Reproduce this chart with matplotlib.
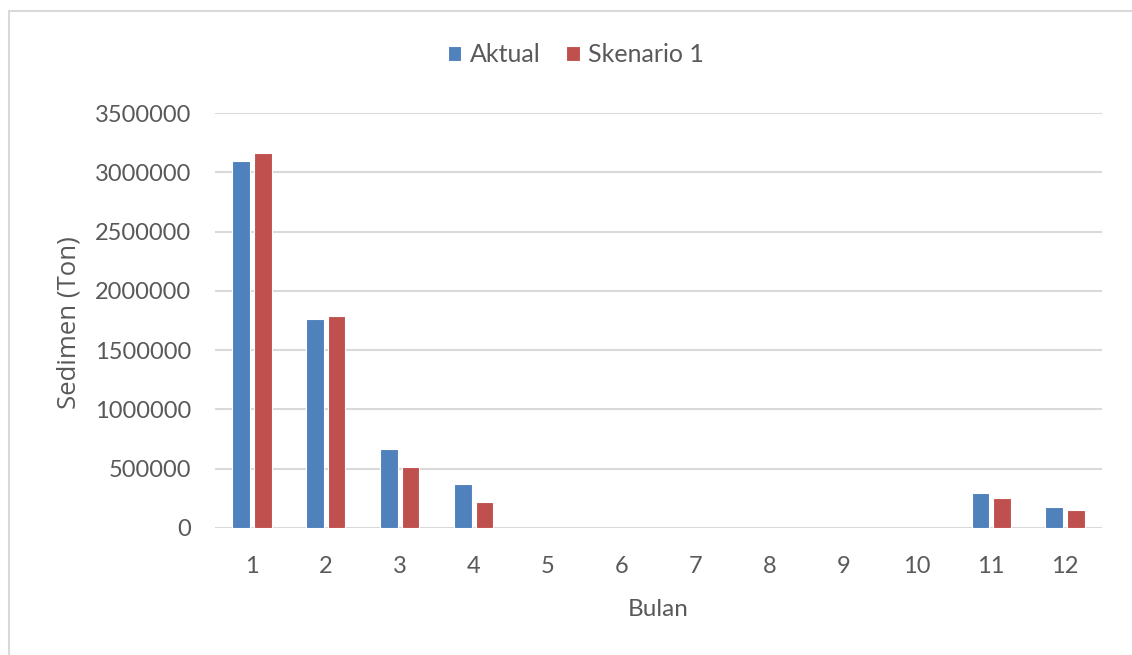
import matplotlib
matplotlib.use("Agg")
import matplotlib.pyplot as plt
from matplotlib.patches import Rectangle
import numpy as np

plt.rcParams['font.family'] = ['Lato', 'DejaVu Sans']

months = ["1", "2", "3", "4", "5", "6", "7", "8", "9", "10", "11", "12"]
aktual = [3092000, 1759000, 663000, 371000, 0, 0, 0, 0, 0, 0, 297000, 175000]
skenario1 = [3162000, 1785000, 514000, 222000, 0, 0, 0, 0, 0, 0, 249000, 153000]
yticks = [0, 500000, 1000000, 1500000, 2000000, 2500000, 3000000, 3500000]

blue = "#4F81BD"
red = "#C0504D"
text_col = "#595959"
grid_col = "#D9D9D9"

fig = plt.figure(figsize=(11.32, 6.55), dpi=100)
ax = fig.add_axes([215 / 1132, 1 - 528 / 655, (1102 - 215) / 1132, (528 - 113) / 655])

x = np.arange(len(months))
w = 0.24
off = 0.145
ax.bar(x - off, aktual, width=w, color=blue, edgecolor="white", linewidth=0.8, label="Aktual", zorder=3)
ax.bar(x + off, skenario1, width=w, color=red, edgecolor="white", linewidth=0.8, label="Skenario 1", zorder=3)

ax.set_xlim(-0.5, len(months) - 0.5)
ax.set_ylim(0, 3500000)
ax.set_yticks(yticks)
ax.set_yticklabels([str(v) for v in yticks])
ax.set_xticks(x)
ax.set_xticklabels(months)
ax.grid(axis="y", color=grid_col, linewidth=1.5, zorder=0)
ax.set_axisbelow(True)
for s in ax.spines.values():
    s.set_visible(False)
ax.tick_params(axis="both", length=0, labelsize=17, colors=text_col)
ax.tick_params(axis="y", pad=17)
ax.tick_params(axis="x", pad=20)

ax.set_xlabel("Bulan", fontsize=17.5, color=text_col, labelpad=16)
ax.set_ylabel("Sedimen (Ton)", fontsize=18.5, color=text_col,
              family=["Open Sans", "DejaVu Sans"])
ax.yaxis.set_label_coords(81 / 1132, 1 - 323 / 655, transform=fig.transFigure)

leg = ax.legend(loc="center", bbox_to_anchor=(576 / 1132, (655 - 55) / 655), bbox_transform=fig.transFigure,
                ncol=2, frameon=False, fontsize=18, labelcolor=text_col,
                handlelength=0.55, handleheight=0.55, handletextpad=0.35, columnspacing=1.0)

# chart border
fig.patches.append(Rectangle((9 / 1132, -0.01), 1.02, 1 - 11 / 655 + 0.01, transform=fig.transFigure,
                             fill=False, edgecolor="#D9D9D9", linewidth=1.5))

fig.savefig("out.png", dpi=100, facecolor="white")
